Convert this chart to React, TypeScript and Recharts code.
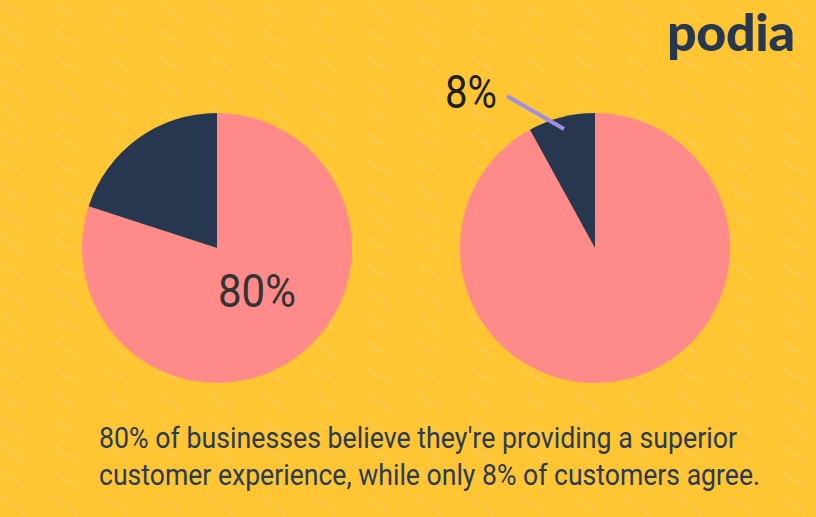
import { PieChart, Pie, Cell } from "recharts";

const groups = ["Businesses", "Customers"];
const pinkShare = [80, 92];
const navyShare = [20, 8];
const labelShare = [80, 8];
const sliceColors = ["#FF8A8A", "#27374F"];

const W = 816;
const H = 517;
const BG = "#FFC533";
const centers = [217, 595];

function pieData(i: number) {
  return [
    { name: "pink", value: pinkShare[i] },
    { name: "navy", value: navyShare[i] },
  ];
}

export default function App() {
  return (
    <div style={{ position: "absolute", left: 0, top: 0, width: W, height: H, background: BG, overflow: "hidden" }}>
      <svg width={W} height={H} style={{ position: "absolute", left: 0, top: 0 }}>
        <defs>
          <pattern id="wave" width="52" height="26" patternUnits="userSpaceOnUse">
            <path d="M2 4 q4 0 6 4 t6 4 t6 4 t6 4" fill="none" stroke="#F7D06A" strokeWidth="1.3" opacity="0.7" />
          </pattern>
        </defs>
        <rect width={W} height={H} fill="url(#wave)" />
      </svg>
      <div style={{ position: "absolute", left: 0, top: 0 }}>
        <PieChart width={W} height={H} margin={{ top: 0, right: 0, bottom: 0, left: 0 }}>
          {groups.map((g, i) => (
            <Pie
              key={g}
              data={pieData(i)}
              dataKey="value"
              cx={centers[i]}
              cy={248}
              outerRadius={135}
              innerRadius={0}
              startAngle={90}
              endAngle={-270}
              stroke="none"
              isAnimationActive={false}
            >
              {pieData(i).map((d, j) => (
                <Cell key={d.name} fill={sliceColors[j]} />
              ))}
            </Pie>
          ))}
        </PieChart>
      </div>
      <svg width={W} height={H} style={{ position: "absolute", left: 0, top: 0, pointerEvents: "none" }}>
        <text x={731} y={51} textAnchor="middle" fontFamily="Lato" fontWeight={900} fontSize={52} fill="#27374F" textLength={128}>
          podia
        </text>
        <text x={218} y={307} fontFamily="Roboto" fontWeight={400} fontSize={46} fill="#333333" textLength={78} lengthAdjust="spacingAndGlyphs">
          {`${labelShare[0]}%`}
        </text>
        <text x={445} y={108} fontFamily="Roboto" fontWeight={400} fontSize={46} fill="#1E1E1E" textLength={52} lengthAdjust="spacingAndGlyphs">
          {`${labelShare[1]}%`}
        </text>
        <line x1={507} y1={96} x2={564} y2={129} stroke="#A08FE0" strokeWidth={4} />
        <text x={99} y={448} fontFamily="Roboto" fontSize={29} fill="#2B3A55" textLength={638} lengthAdjust="spacingAndGlyphs">
          80% of businesses believe they're providing a superior
        </text>
        <text x={99} y={485} fontFamily="Roboto" fontSize={29} fill="#2B3A55" textLength={661} lengthAdjust="spacingAndGlyphs">
          customer experience, while only 8% of customers agree.
        </text>
      </svg>
    </div>
  );
}
